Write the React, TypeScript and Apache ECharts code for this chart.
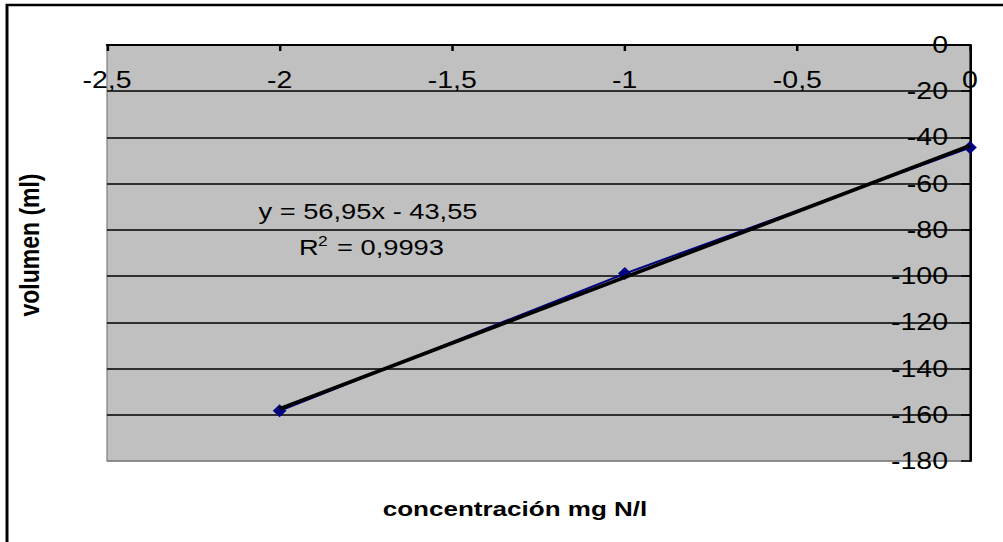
import React, { useEffect, useRef } from "react";
import * as echarts from "echarts";

// ---- data ----
const concentracion: number[] = [-2, -1, 0];
const volumen: number[] = [-158.3, -98.9, -44.4];
const trendX: number[] = [-2, 0];
const trendY: number[] = [-157.45, -43.55];
const xTicks = { min: -2.5, max: 0, interval: 0.5 };
const yTicks = { min: -180, max: 0, interval: 20 };
const xTitle = "concentración mg N/l";
const yTitle = "volumen (ml)";
const eqText = "y = 56,95x - 43,55";
const r2Value = "= 0,9993";

// horizontal stretch of the original picture
const FULL_W = 1003;
const H = 542;
const W0 = 809;
const S = FULL_W / W0;
const px = (x: number) => x / S;

const FONT = "Arial, 'Liberation Sans', sans-serif";

export default function App() {
  const ref = useRef<HTMLDivElement>(null);
  useEffect(() => {
    if (!ref.current) return;
    const chart = echarts.init(ref.current, undefined, { renderer: "svg" });
    const fmt = (v: number) => String(v).replace(".", ",");
    const splitColors = ["#808080"].concat(new Array(9).fill("#000000"));
    chart.setOption({
      animation: false,
      backgroundColor: "#ffffff",
      grid: {
        left: px(107),
        right: W0 - px(970),
        top: 45,
        bottom: H - 461,
        show: true,
        backgroundColor: "#C0C0C0",
        borderColor: "#808080",
        borderWidth: 1,
      },
      xAxis: {
        type: "value",
        position: "top",
        min: xTicks.min,
        max: xTicks.max,
        interval: xTicks.interval,
        axisLine: { show: true, onZero: false, lineStyle: { color: "#000", width: 2 } },
        axisTick: { show: true, inside: true, length: 6, lineStyle: { color: "#000", width: 2 } },
        axisLabel: {
          inside: true,
          margin: 24,
          color: "#000",
          fontSize: 23,
          fontFamily: FONT,
          formatter: fmt,
          showMinLabel: true,
          showMaxLabel: true,
        },
        splitLine: { show: false },
      },
      yAxis: {
        type: "value",
        position: "right",
        min: yTicks.min,
        max: yTicks.max,
        interval: yTicks.interval,
        axisLine: { show: true, onZero: false, lineStyle: { color: "#000", width: 2 } },
        axisTick: { show: true, inside: true, length: px(9), lineStyle: { color: "#000", width: 1.5 } },
        axisLabel: {
          inside: true,
          margin: px(22),
          color: "#000",
          fontSize: 23,
          fontFamily: FONT,
          formatter: fmt,
          showMinLabel: true,
          showMaxLabel: true,
        },
        splitLine: { show: true, lineStyle: { color: splitColors, width: 1.5 } },
      },
      series: [
        {
          type: "line",
          data: concentracion.map((x, i) => [x, volumen[i]]),
          symbol: "diamond",
          symbolSize: [11, 13],
          itemStyle: { color: "#000080" },
          lineStyle: { color: "#000080", width: 2 },
          clip: false,
          z: 2,
        },
        {
          type: "line",
          data: trendX.map((x, i) => [x, trendY[i]]),
          symbol: "none",
          lineStyle: { color: "#000000", width: 3.5 },
          clip: false,
          z: 3,
        },
      ],
      graphic: [
        {
          type: "rect",
          shape: { x: px(7), y: 5, width: 2000, height: 2000 },
          style: { fill: "none", stroke: "#000", lineWidth: 2.4 },
          silent: true,
        },
        {
          type: "text",
          x: px(368),
          y: 211,
          style: { text: eqText, font: `22px ${FONT}`, fill: "#000", align: "center", verticalAlign: "middle" },
          z: 10,
        },
        {
          type: "text",
          x: px(299),
          y: 247,
          style: { text: "R", font: `22px ${FONT}`, fill: "#000", align: "left", verticalAlign: "middle" },
          z: 10,
        },
        {
          type: "text",
          x: px(318),
          y: 241.5,
          style: { text: "2", font: `14px ${FONT}`, fill: "#000", align: "left", verticalAlign: "middle" },
          z: 10,
        },
        {
          type: "text",
          x: px(337),
          y: 247,
          style: { text: r2Value, font: `22px ${FONT}`, fill: "#000", align: "left", verticalAlign: "middle" },
          z: 10,
        },
        {
          type: "text",
          x: px(515),
          y: 509,
          style: { text: xTitle, font: `bold 21px ${FONT}`, fill: "#000", align: "center", verticalAlign: "middle" },
        },
        {
          type: "text",
          x: px(29),
          y: 245,
          rotation: Math.PI / 2,
          style: { text: yTitle, font: `bold 23px ${FONT}`, fill: "#000", align: "center", verticalAlign: "middle" },
        },
      ],
    });
    return () => chart.dispose();
  }, []);
  return (
    <div
      style={{
        position: "absolute",
        left: 0,
        top: 0,
        width: FULL_W,
        height: H,
        overflow: "hidden",
        background: "#fff",
      }}
    >
      <div
        ref={ref}
        style={{ width: W0, height: H, transform: `scaleX(${S})`, transformOrigin: "0 0" }}
      />
    </div>
  );
}
